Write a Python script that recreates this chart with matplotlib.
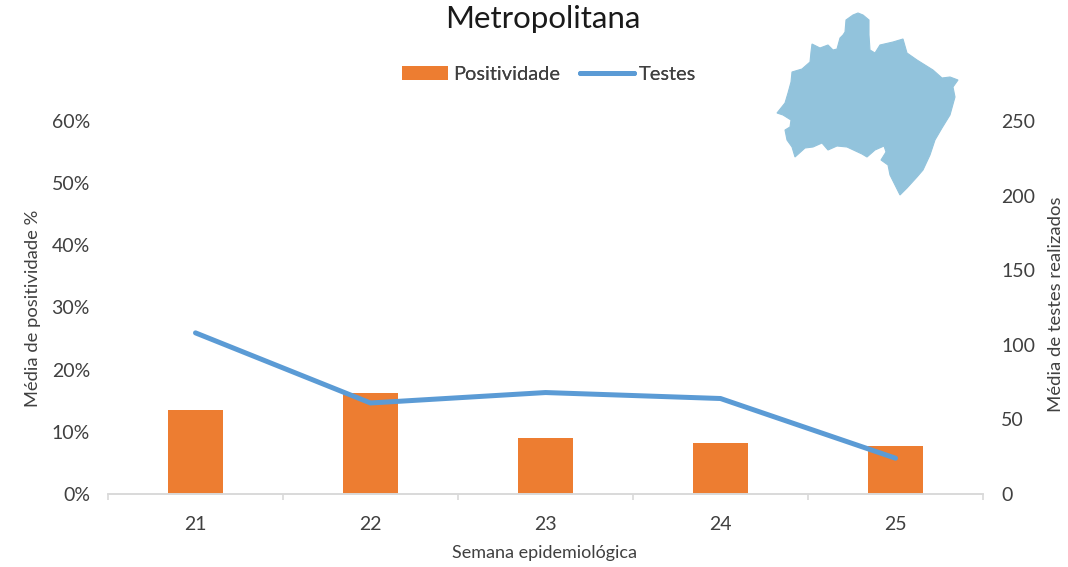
import matplotlib

matplotlib.use("Agg")
import matplotlib.pyplot as plt
import numpy as np
from matplotlib.patches import Polygon

weeks = ["21", "22", "23", "24", "25"]
positivity = [13.5, 16.2, 9.0, 8.2, 7.8]
tests = [108, 61, 68, 64, 24]
left_ticks = [0, 10, 20, 30, 40, 50, 60]
right_ticks = [0, 50, 100, 150, 200, 250]

# outline of the region (pixels)
map_x = [858, 853, 846, 845, 843, 840, 837, 833, 828, 820, 812, 811, 810, 802, 792, 791,
         788, 785, 777, 783, 791, 790, 785, 787, 792, 795, 805, 813, 822, 828, 837, 847,
         862, 867, 875, 884, 886, 881, 888, 890, 895, 900, 907, 917, 923, 930, 935, 942,
         950, 955, 953, 958, 950, 942, 933, 917, 907, 905, 903, 893, 880, 875, 870, 869,
         869, 863]
map_y = [13, 15, 20, 32, 35, 38, 49, 50, 45, 48, 44, 52, 62, 69, 72, 82,
         93, 103, 113, 115, 120, 127, 130, 140, 147, 157, 148, 147, 143, 150, 146, 147,
         154, 157, 150, 146, 152, 160, 165, 175, 185, 195, 188, 177, 170, 155, 140, 128,
         115, 97, 87, 80, 77, 78, 70, 60, 53, 46, 39, 42, 45, 53, 50, 35,
         20, 15]

W, H = 1068, 567
TEXT = "#404040"
plt.rcParams["font.family"] = ["Lato", "DejaVu Sans"]

fig = plt.figure(figsize=(W / 100, H / 100), dpi=100)
ax = fig.add_axes([108 / W, 1 - 494 / H, (983 - 108) / W, (494 - 121) / H])
ax2 = ax.twinx()

x = np.arange(len(weeks))
bars = ax.bar(x, positivity, width=0.315, color="#ED7D31", label="Positividade")
line, = ax2.plot(x, tests, color="#5B9BD5", lw=3.6, solid_capstyle="round",
                 solid_joinstyle="miter", label="Testes")

ax.set_xlim(-0.5, 4.5)
ax.set_ylim(0, 60)
ax2.set_ylim(0, 250)
ax.set_xticks(np.arange(-0.5, 5, 1))
ax.set_xticklabels([])
ax.set_xticks(x, minor=True)
ax.set_xticklabels(weeks, minor=True)
ax.tick_params(axis="x", which="major", length=4, width=1.2, color="#D9D9D9")
ax.tick_params(axis="x", which="minor", length=0, pad=16, labelsize=14, labelcolor=TEXT)
ax.set_yticks(left_ticks)
ax.set_yticklabels([f"{v}%" for v in left_ticks])
ax.tick_params(axis="y", length=0, pad=13, labelsize=14, labelcolor=TEXT)
ax2.set_yticks(right_ticks)
ax2.tick_params(axis="y", length=0, pad=13, labelsize=14, labelcolor=TEXT)

for a in (ax, ax2):
    for side in ("top", "left", "right"):
        a.spines[side].set_visible(False)
    a.spines["bottom"].set_color("#D9D9D9")
    a.spines["bottom"].set_linewidth(1.2)

fig.text(545 / W, 1 - 553 / H, "Semana epidemiológica", ha="center", va="center",
         fontsize=13, color=TEXT)
fig.text(33 / W, 1 - 308 / H, "Média de positividade %", rotation=90, ha="center",
         va="center", fontsize=13.2, color=TEXT)
fig.text(1056 / W, 1 - 304 / H, "Média de testes realizados", rotation=90, ha="center",
         va="center", fontsize=13.3, color=TEXT)
fig.text(543 / W, 1 - 19 / H, "Metropolitana", ha="center", va="center", fontsize=22.5,
         color="#1A1A1A")

# two legends so the swatch and the line can have their own lengths
for handle, label, left, length in [(bars, "Positividade", 402, 2.3), (line, "Testes", 580, 2.7)]:
    fig.add_artist(fig.legend([handle], [label], loc="center left",
                              bbox_to_anchor=(left / W, 1 - 74 / H), frameon=False,
                              fontsize=14.4, labelcolor=TEXT, handlelength=length,
                              handletextpad=0.25, borderpad=0, borderaxespad=0))

outline = np.column_stack([np.array(map_x) / W, 1 - np.array(map_y) / H])
fig.add_artist(Polygon(outline, closed=True, transform=fig.transFigure,
                       facecolor="#92C3DC", edgecolor="#92C3DC", lw=0.8, zorder=5))

fig.savefig("out.png", dpi=100)
plt.close(fig)
